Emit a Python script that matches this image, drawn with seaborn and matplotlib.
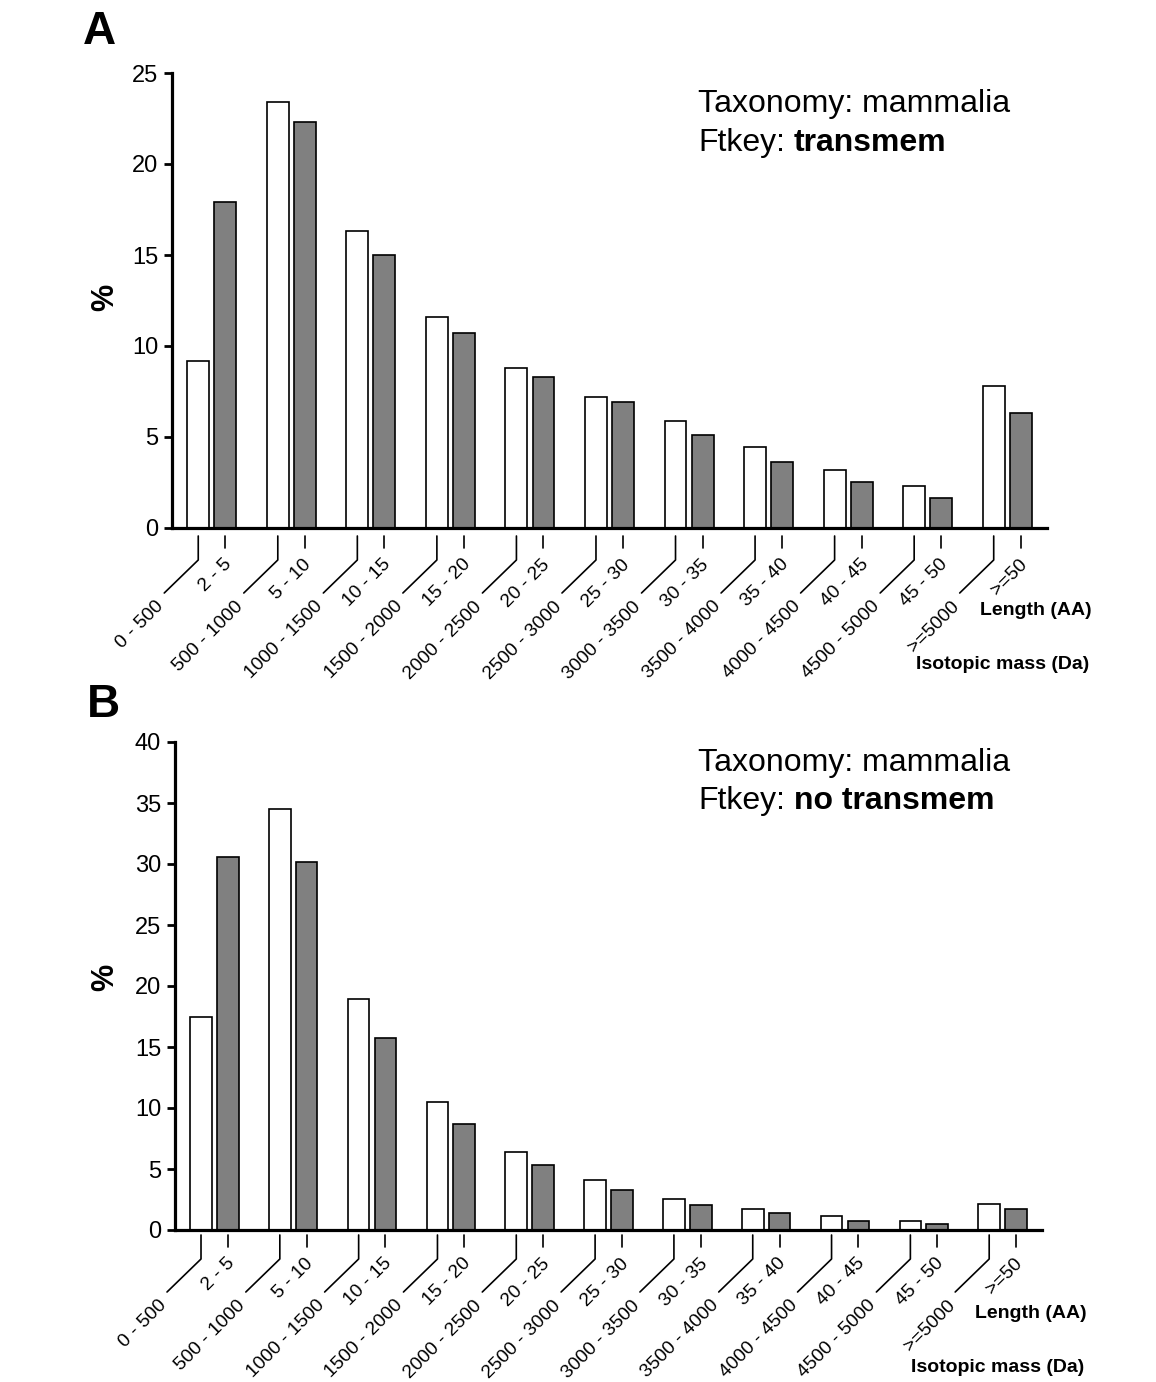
import numpy as np
import pandas as pd
import matplotlib
matplotlib.use("Agg")
import matplotlib.pyplot as plt
import matplotlib.transforms as mtransforms
from matplotlib.lines import Line2D
import seaborn as sns

# ---------------- data ----------------
length_labels = ["2 - 5", "5 - 10", "10 - 15", "15 - 20", "20 - 25", "25 - 30",
                 "30 - 35", "35 - 40", "40 - 45", "45 - 50", ">=50"]
mass_labels = ["0 - 500", "500 - 1000", "1000 - 1500", "1500 - 2000", "2000 - 2500",
               "2500 - 3000", "3000 - 3500", "3500 - 4000", "4000 - 4500",
               "4500 - 5000", ">=5000"]

series_names = ["Isotopic mass (Da)", "Length (AA)"]

a_mass = [9.2, 23.4, 16.3, 11.6, 8.8, 7.2, 5.9, 4.45, 3.2, 2.3, 7.8]
a_length = [17.9, 22.3, 15.0, 10.7, 8.3, 6.9, 5.1, 3.6, 2.5, 1.65, 6.3]
b_mass = [17.5, 34.5, 18.9, 10.5, 6.4, 4.1, 2.55, 1.7, 1.15, 0.75, 2.15]
b_length = [30.6, 30.2, 15.7, 8.7, 5.35, 3.3, 2.05, 1.4, 0.75, 0.5, 1.75]

a_yticks = [0, 5, 10, 15, 20, 25]
b_yticks = [0, 5, 10, 15, 20, 25, 30, 35, 40]

# ---------------- style ----------------
sns.set_theme(style="white")
plt.rcParams['font.family'] = ['Liberation Sans', 'DejaVu Sans']

W, H = 1156, 1382
fig = plt.figure(figsize=(W / 100, H / 100), dpi=100)
fig.patch.set_facecolor("white")

axA = fig.add_axes([172 / W, 1 - 528 / H, 875 / W, 455 / H])
axB = fig.add_axes([175 / W, 1 - 1230 / H, 867 / W, 488 / H])


def px(x, y):
    return (x / 100.0, y / 100.0)


def draw_panel(ax, mass, length, yticks, letter, letter_xy, pct_xy,
               tax_xy, ft_xy, ft_bold, drop):
    df = pd.DataFrame({
        "bin": length_labels * 2,
        "series": [series_names[0]] * len(mass) + [series_names[1]] * len(length),
        "pct": list(mass) + list(length),
    })
    sns.barplot(data=df, x="bin", y="pct", hue="series", order=length_labels,
                hue_order=series_names, palette=["white", "#808080"],
                saturation=1, width=0.68, gap=0.19, edgecolor="black",
                linewidth=1.2, legend=False, ax=ax)

    ax.set_xlim(-0.5, 10.5)
    ax.set_ylim(yticks[0], yticks[-1])
    ax.set_yticks(yticks)
    ax.set_xticks([])
    ax.set_xlabel("")
    ax.set_ylabel("")
    for s in ["top", "right"]:
        ax.spines[s].set_visible(False)
    for s in ["left", "bottom"]:
        ax.spines[s].set_color("black")
        ax.spines[s].set_linewidth(2.3)
    ax.tick_params(axis="y", left=True, direction="out", length=6, width=2,
                   labelsize=17, pad=4, colors="black")
    ax.set_facecolor("white")

    # bar centres taken from the drawn patches
    white_x, gray_x = [], []
    for p in ax.patches:
        fc = p.get_facecolor()
        cx = p.get_x() + p.get_width() / 2
        if fc[0] > 0.9:
            white_x.append(cx)
        else:
            gray_x.append(cx)
    white_x.sort()
    gray_x.sort()

    def trans_at(x):
        return fig.dpi_scale_trans + mtransforms.ScaledTranslation(
            x, 0, ax.get_xaxis_transform())

    d = drop
    for x, lbl in zip(white_x, mass_labels):
        t = trans_at(x)
        xs, ys = zip(px(0, -d), px(0, -(d + 24)), px(-34, -(d + 57)))
        fig.add_artist(Line2D(xs, ys, transform=t, color="black", lw=1.2,
                              clip_on=False))
        ax_x, ax_y = px(-37, -(d + 68))
        ax.text(ax_x, ax_y, lbl, transform=t, rotation=45, rotation_mode="anchor",
                ha="right", va="center", fontsize=13.8, color="black",
                clip_on=False)

    for x, lbl in zip(gray_x, length_labels):
        t = trans_at(x)
        xs, ys = zip(px(0, -d), px(0, -(d + 12)))
        fig.add_artist(Line2D(xs, ys, transform=t, color="black", lw=1.2,
                              clip_on=False))
        ax_x, ax_y = px(4, -(d + 26))
        ax.text(ax_x, ax_y, lbl, transform=t, rotation=45, rotation_mode="anchor",
                ha="right", va="center", fontsize=13.8, color="black",
                clip_on=False)

    ax.annotate(series_names[1], xy=(1, 0), xycoords="axes fraction",
                xytext=(45 * 0.72, -83 * 0.72), textcoords="offset points",
                ha="right", va="center", fontsize=14, fontweight="bold",
                color="black", annotation_clip=False)
    ax.annotate(series_names[0], xy=(1, 0), xycoords="axes fraction",
                xytext=(42 * 0.72, -137 * 0.72), textcoords="offset points",
                ha="right", va="center", fontsize=14, fontweight="bold",
                color="black", annotation_clip=False)

    fig.text(letter_xy[0] / W, 1 - letter_xy[1] / H, letter, fontsize=33,
             fontweight="bold", ha="center", va="center", color="black")
    fig.text(pct_xy[0] / W, 1 - pct_xy[1] / H, "%", fontsize=22,
             fontweight="bold", rotation=90, ha="center", va="center",
             color="black")
    fig.text(tax_xy[0] / W, 1 - tax_xy[1] / H, "Taxonomy: mammalia",
             fontsize=23, ha="left", va="center", color="black")
    t1 = fig.text(ft_xy[0] / W, 1 - ft_xy[1] / H, "Ftkey:", fontsize=23,
                  ha="left", va="center", color="black")
    ax.annotate(ft_bold, xy=(1, 0), xycoords=t1, xytext=(6.5, 0),
                textcoords="offset points", ha="left", va="bottom",
                fontsize=23, fontweight="bold", color="black",
                annotation_clip=False)


draw_panel(axA, a_mass, a_length, a_yticks, "A", (99, 32), (105, 297),
           (698, 104), (698, 143), "transmem", 8)
draw_panel(axB, b_mass, b_length, b_yticks, "B", (103, 705), (105, 977),
           (698, 763), (698, 801), "no transmem", 5)

fig.savefig("out.png", dpi=100, facecolor="white")
